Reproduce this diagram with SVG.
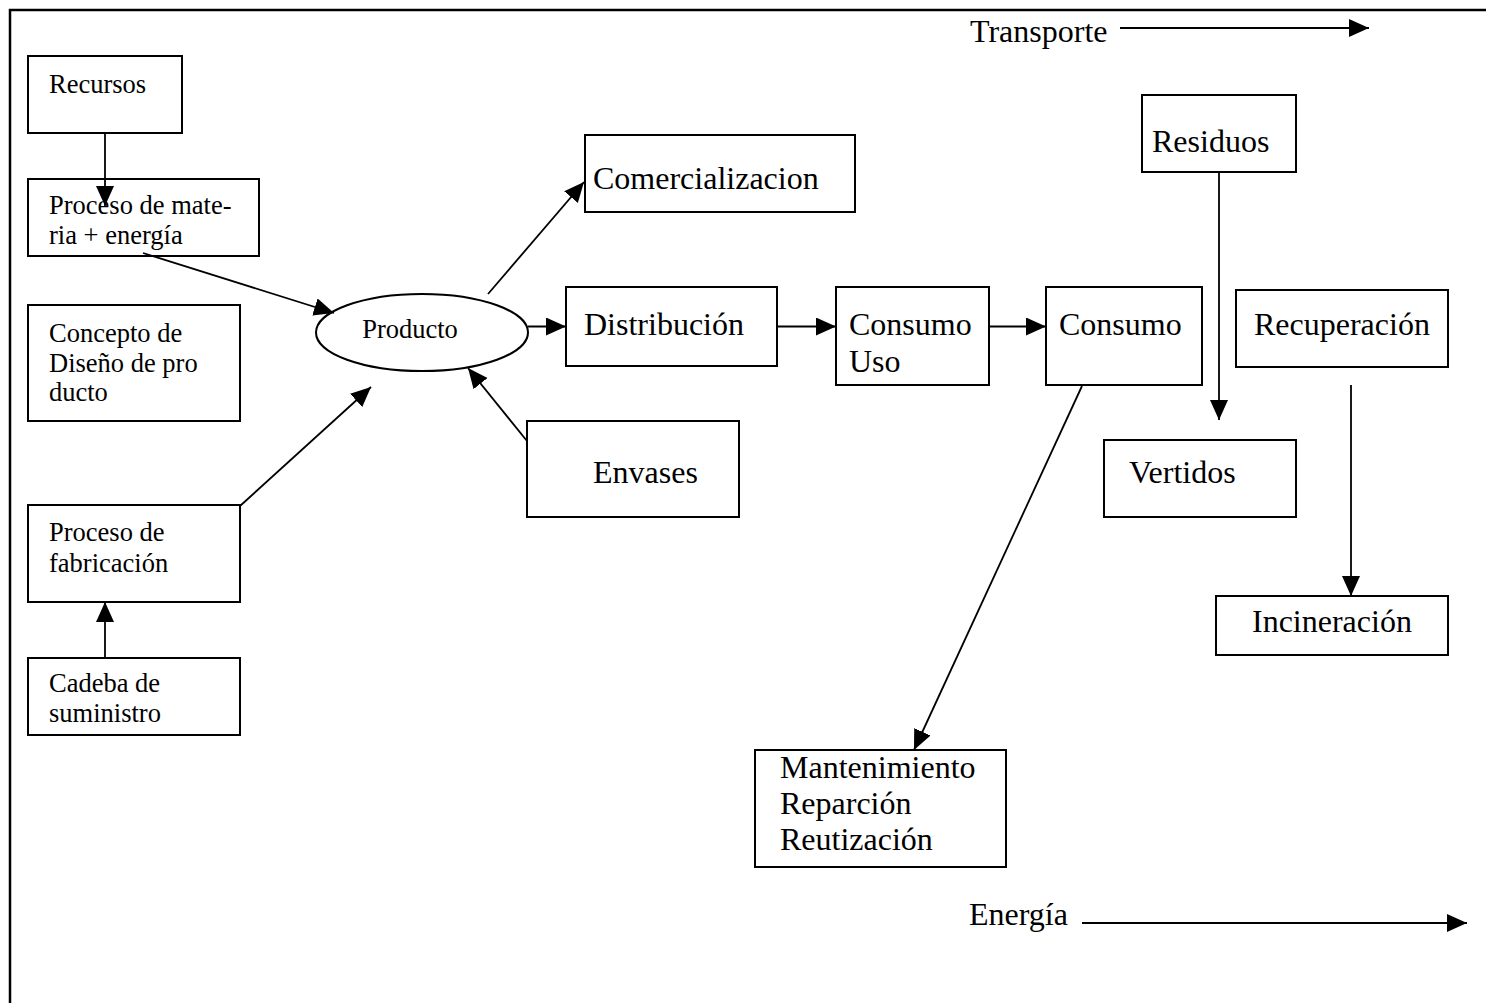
<svg xmlns="http://www.w3.org/2000/svg" width="1486" height="1003" viewBox="0 0 1486 1003">
<style>
.box{fill:#fff;stroke:#000;stroke-width:2}
.t{font-family:"Liberation Serif","Times New Roman",serif;fill:#000}
.s{font-size:26.5px}
.l{font-size:32px}
.c{stroke:#000;stroke-width:1.8;fill:none;marker-end:url(#ah)}
</style>
<defs>
<marker id="ah" markerUnits="userSpaceOnUse" markerWidth="21" markerHeight="19" refX="20" refY="9" orient="auto">
<path d="M0,0 L20,9 L0,18 z" fill="#000"/>
</marker>
</defs>
<rect width="1486" height="1003" fill="#fff"/>
<g id="frame"><path d="M10,1003 V10 H1486" fill="none" stroke="#000" stroke-width="2.5"/></g>

<g id="recursos"><rect class="box" x="28" y="56" width="154" height="77"/><text class="t s" x="49" y="93">Recursos</text></g>
<g id="proceso-materia"><rect class="box" x="28" y="179" width="231" height="77"/><text class="t s" x="49" y="214">Proceso de mate-</text><text class="t s" x="49" y="244">ria + energía</text></g>
<g id="concepto"><rect class="box" x="28" y="305" width="212" height="116"/><text class="t s" x="49" y="342">Concepto de</text><text class="t s" x="49" y="372">Diseño de pro</text><text class="t s" x="49" y="401">ducto</text></g>
<g id="proceso-fabricacion"><rect class="box" x="28" y="505" width="212" height="97"/><text class="t s" x="49" y="541">Proceso de</text><text class="t s" x="49" y="572">fabricación</text></g>
<g id="cadeba"><rect class="box" x="28" y="658" width="212" height="77"/><text class="t s" x="49" y="692">Cadeba de</text><text class="t s" x="49" y="722">suministro</text></g>
<g id="producto"><ellipse cx="422" cy="332.5" rx="106" ry="38.5" fill="#fff" stroke="#000" stroke-width="2"/><text class="t s" x="410" y="338" text-anchor="middle">Producto</text></g>
<g id="comercializacion"><rect class="box" x="585" y="135" width="270" height="77"/><text class="t l" x="593" y="189">Comercializacion</text></g>
<g id="distribucion"><rect class="box" x="566" y="287" width="211" height="79"/><text class="t l" x="584" y="335">Distribución</text></g>
<g id="consumo-uso"><rect class="box" x="836" y="287" width="153" height="98"/><text class="t l" x="849" y="335">Consumo</text><text class="t l" x="849" y="372">Uso</text></g>
<g id="consumo"><rect class="box" x="1046" y="287" width="156" height="98"/><text class="t l" x="1059" y="335">Consumo</text></g>
<g id="envases"><rect class="box" x="527" y="421" width="212" height="96"/><text class="t l" x="593" y="483">Envases</text></g>
<g id="residuos"><rect class="box" x="1142" y="95" width="154" height="77"/><text class="t l" x="1152" y="152">Residuos</text></g>
<g id="recuperacion"><rect class="box" x="1236" y="290" width="212" height="77"/><text class="t l" x="1254" y="335">Recuperación</text></g>
<g id="vertidos"><rect class="box" x="1104" y="440" width="192" height="77"/><text class="t l" x="1129" y="483">Vertidos</text></g>
<g id="incineracion"><rect class="box" x="1216" y="596" width="232" height="59"/><text class="t l" x="1252" y="632">Incineración</text></g>
<g id="mantenimiento"><rect class="box" x="755" y="750" width="251" height="117"/><text class="t l" x="780" y="778">Mantenimiento</text><text class="t l" x="780" y="814">Reparción</text><text class="t l" x="780" y="850">Reutización</text></g>
<g id="transporte"><text class="t l" x="970" y="42">Transporte</text></g>
<g id="energia"><text class="t l" x="969" y="925">Energía</text></g>

<g id="connectors">
<line class="c" x1="105" y1="133" x2="105" y2="206"/>
<line class="c" x1="105" y1="658" x2="105" y2="602"/>
<line class="c" x1="143" y1="253" x2="334" y2="313"/>
<line class="c" x1="240" y1="506" x2="371" y2="387"/>
<line class="c" x1="527" y1="441" x2="468" y2="368"/>
<line class="c" x1="488" y1="294" x2="584" y2="182"/>
<line class="c" x1="528" y1="326.5" x2="566" y2="326.5"/>
<line class="c" x1="777" y1="326.5" x2="836" y2="326.5"/>
<line class="c" x1="989" y1="326.5" x2="1046" y2="326.5"/>
<line class="c" x1="1082" y1="386" x2="914" y2="750"/>
<line class="c" x1="1219" y1="172" x2="1219" y2="420"/>
<line class="c" x1="1351" y1="385" x2="1351" y2="596"/>
<line class="c" x1="1120" y1="28" x2="1369" y2="28"/>
<line class="c" x1="1082" y1="923" x2="1467" y2="923"/>
</g>
</svg>
